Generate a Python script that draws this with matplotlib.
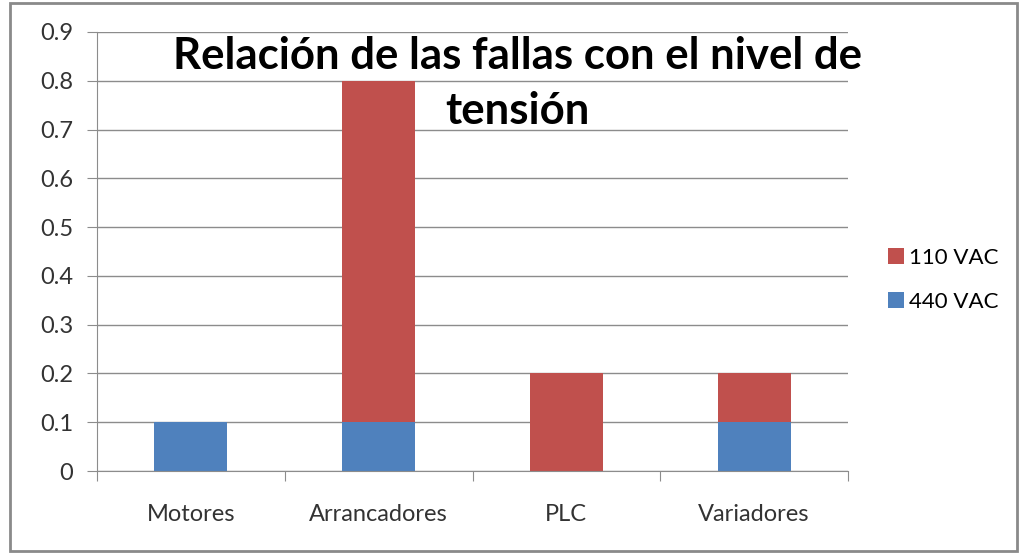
import numpy as np
import matplotlib.pyplot as plt
from matplotlib.patches import Rectangle

categorias = ["Motores", "Arrancadores", "PLC", "Variadores"]
v440 = [0.1, 0.1, 0.0, 0.1]
v110 = [0.0, 0.7, 0.2, 0.1]
yticks = [0, 0.1, 0.2, 0.3, 0.4, 0.5, 0.6, 0.7, 0.8, 0.9]
ytick_labels = ["0", "0.1", "0.2", "0.3", "0.4", "0.5", "0.6", "0.7", "0.8", "0.9"]

plt.rcParams['font.family'] = ['Lato', 'DejaVu Sans']

fig = plt.figure(figsize=(10.2, 5.54), dpi=100)
ax = fig.add_axes([97 / 1020, 1 - 471 / 554, (848 - 97) / 1020, (471 - 32) / 554])

x = np.arange(len(categorias))
ax.bar(x, v440, width=0.39, color="#4F81BD", label="440 VAC", zorder=2)
ax.bar(x, v110, width=0.39, bottom=v440, color="#C0504D", label="110 VAC", zorder=2)

ax.set_xlim(-0.5, 3.5)
ax.set_ylim(0, 0.9)
ax.set_yticks(yticks)
ax.set_yticklabels(ytick_labels, fontsize=17, color="#333333")
ax.grid(axis="y", color="#8c8c8c", linewidth=1, zorder=0)

# marcas del eje x en los limites de cada categoria
ax.set_xticks(np.arange(-0.5, 4, 1))
ax.set_xticklabels([])
ax.set_xticks(x, minor=True)
ax.set_xticklabels(categorias, minor=True, fontsize=17, color="#333333")
ax.tick_params(axis="x", which="minor", length=0, pad=24)
ax.tick_params(axis="x", which="major", length=7, color="#8c8c8c")
ax.tick_params(axis="y", length=7, color="#8c8c8c", pad=10)

for s in ["top", "right"]:
    ax.spines[s].set_visible(False)
for s in ["left", "bottom"]:
    ax.spines[s].set_color("#8c8c8c")

h, l = ax.get_legend_handles_labels()
fig.legend(h[::-1], l[::-1], loc="center left", bbox_to_anchor=(0.851, 0.495),
           frameon=False, fontsize=16, handlelength=0.7, handleheight=0.7,
           handletextpad=0.25, labelspacing=1.1)

fig.text(0.507, 0.849, "Relación de las fallas con el nivel de\ntensión", ha="center",
         va="center", fontsize=31.5, fontweight="bold", linespacing=1.45, zorder=5)

fig.patches.append(Rectangle((0.01, 0.006), 0.987, 0.988, transform=fig.transFigure,
                             fill=False, edgecolor="#8a8a8a", linewidth=2))

fig.savefig("out.png", dpi=100, facecolor="white")
